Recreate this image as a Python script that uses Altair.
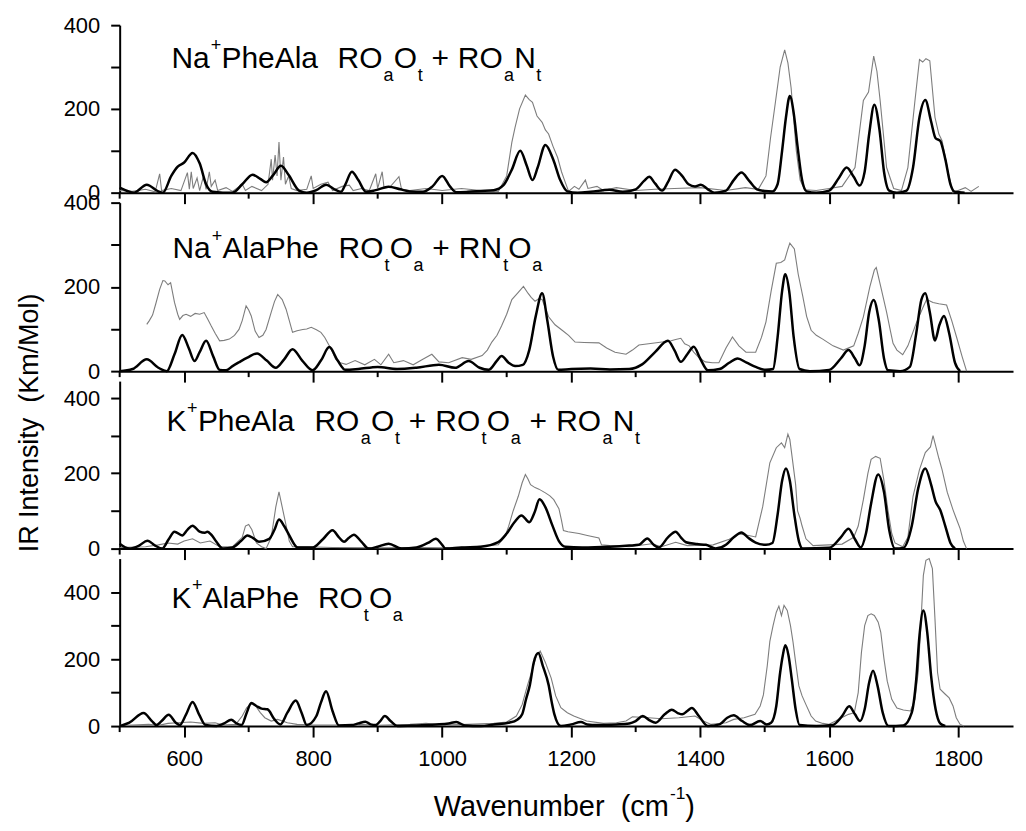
import altair as alt
import pandas as pd

# ---------------- data (wavenumber cm-1, IR intensity km/mol) ----------------
wn_ticks_major = [600, 800, 1000, 1200, 1400, 1600, 1800]
wn_ticks_minor = [500, 700, 900, 1100, 1300, 1500, 1700]
y_ticks = [0, 100, 200, 300, 400]

# Panel 1: Na+PheAla
p1_exp = [(500, 5), (520, 3), (540, 8), (555, 2), (562, 45), (565, 5), (580, 10), (595, 5), (605, 48), (608, 8),
          (611, 50), (614, 10), (620, 35), (624, 5), (630, 40), (634, 8), (639, 50), (642, 15), (648, 30), (652, 5),
          (665, 12), (675, 3), (690, 20), (695, 5), (705, 15), (720, 5), (730, 20), (735, 80), (737, 30), (741, 90),
          (744, 40), (747, 121), (750, 30), (754, 85), (757, 20), (762, 40), (766, 10), (775, 5), (790, 8), (797, 40),
          (800, 10), (812, 20), (823, 25), (830, 5), (845, 15), (856, 18), (862, 5), (875, 10), (887, 5), (897, 45),
          (900, 10), (907, 50), (910, 10), (920, 15), (933, 38), (937, 8), (950, 5), (975, 10), (1000, 5), (1030, 10),
          (1060, 5), (1087, 3), (1100, 40), (1108, 120), (1113, 156), (1120, 200), (1129, 233), (1135, 222),
          (1140, 216), (1147, 183), (1155, 168), (1160, 150), (1165, 140), (1172, 110), (1179, 84), (1185, 50),
          (1191, 24), (1196, 3), (1205, 15), (1212, 8), (1222, 30), (1226, 10), (1240, 15), (1250, 5), (1270, 12),
          (1300, 5), (1330, 8), (1360, 10), (1400, 12), (1440, 5), (1470, 12), (1490, 8), (1502, 40), (1509, 130),
          (1517, 220), (1524, 300), (1531, 341), (1536, 310), (1541, 250), (1549, 100), (1555, 30), (1562, 7),
          (1580, 5), (1600, 10), (1620, 15), (1640, 60), (1653, 220), (1661, 240), (1669, 326), (1674, 290),
          (1679, 220), (1689, 60), (1700, 10), (1712, 5), (1722, 60), (1733, 220), (1740, 318), (1745, 312),
          (1750, 320), (1756, 315), (1764, 180), (1770, 140), (1775, 124), (1785, 45), (1792, 0), (1800, 5),
          (1811, 12), (1820, 3), (1832, 15)]
p1_calc = [(500, 12), (512, 4), (522, 0), (542, 19), (560, 3), (567, 0), (580, 40), (590, 62), (600, 72), (613, 95),
           (624, 70), (634, 20), (644, 2), (660, 0), (675, 0), (690, 20), (706, 43), (718, 33), (727, 25), (738, 42),
           (750, 64), (762, 42), (778, 5), (790, 0), (805, 6), (820, 19), (833, 8), (843, 2), (850, 20), (860, 50),
           (870, 30), (882, 2), (897, 6), (917, 14), (935, 8), (950, 3), (970, 2), (985, 15), (1000, 40), (1012, 15),
           (1022, 1), (1040, 2), (1060, 4), (1080, 6), (1095, 18), (1108, 55), (1121, 100), (1131, 65), (1140, 30),
           (1148, 60), (1160, 114), (1172, 80), (1183, 30), (1194, 3), (1210, 0), (1230, 2), (1259, 7), (1280, 2),
           (1300, 8), (1313, 28), (1321, 38), (1330, 22), (1341, 5), (1350, 25), (1361, 55), (1372, 40), (1382, 20),
           (1392, 15), (1401, 19), (1412, 8), (1422, 0), (1440, 5), (1452, 30), (1464, 48), (1476, 28), (1488, 8),
           (1500, 4), (1512, 3), (1520, 20), (1527, 100), (1533, 180), (1539, 231), (1545, 190), (1551, 110),
           (1558, 30), (1565, 3), (1580, 0), (1600, 5), (1615, 35), (1627, 60), (1638, 38), (1647, 17), (1655, 50),
           (1662, 140), (1670, 210), (1678, 150), (1685, 50), (1693, 5), (1705, 0), (1720, 5), (1730, 60),
           (1740, 180), (1749, 221), (1758, 170), (1765, 130), (1772, 124), (1780, 80), (1788, 20), (1795, 2),
           (1810, 0)]

# Panel 2: Na+AlaPhe
p2_exp = [(542, 111), (546, 120), (551, 133), (556, 160), (562, 194), (567, 215), (570, 214), (575, 205), (579, 210),
          (585, 163), (590, 135), (593, 123), (598, 132), (603, 135), (610, 130), (617, 137), (624, 135), (631, 139),
          (636, 125), (642, 107), (648, 90), (655, 72), (662, 73), (670, 76), (678, 85), (685, 99), (690, 120),
          (696, 155), (700, 145), (704, 131), (710, 95), (716, 80), (722, 85), (727, 99), (735, 140), (740, 165),
          (745, 182), (752, 170), (758, 147), (763, 120), (768, 92), (775, 96), (784, 99), (790, 100), (797, 104),
          (805, 98), (812, 92), (818, 80), (825, 60), (830, 45), (835, 28), (842, 20), (851, 16), (865, 25), (880, 15),
          (895, 28), (905, 15), (917, 40), (925, 20), (940, 25), (955, 15), (970, 28), (984, 40), (995, 22),
          (1010, 20), (1031, 32), (1045, 28), (1062, 37), (1070, 50), (1077, 69), (1085, 85), (1092, 107),
          (1100, 135), (1108, 170), (1118, 187), (1126, 201), (1133, 185), (1138, 175), (1144, 166), (1150, 172),
          (1155, 170), (1160, 150), (1165, 129), (1175, 110), (1186, 97), (1196, 85), (1206, 69), (1220, 68),
          (1243, 67), (1255, 55), (1268, 45), (1285, 40), (1295, 50), (1305, 62), (1320, 65), (1341, 69),
          (1355, 72), (1362, 75), (1370, 78), (1376, 65), (1383, 60), (1390, 45), (1398, 32), (1408, 22),
          (1419, 20), (1429, 20), (1440, 55), (1450, 81), (1460, 60), (1471, 45), (1486, 45), (1495, 80),
          (1502, 117), (1510, 190), (1518, 256), (1525, 258), (1531, 264), (1536, 290), (1539, 304), (1546, 290),
          (1552, 230), (1559, 178), (1565, 130), (1572, 97), (1580, 85), (1590, 76), (1606, 60), (1622, 50),
          (1638, 60), (1645, 90), (1653, 129), (1663, 200), (1670, 240), (1673, 246), (1680, 200), (1689, 140),
          (1695, 95), (1699, 66), (1705, 50), (1714, 39), (1722, 60), (1735, 114), (1745, 150), (1751, 170),
          (1761, 163), (1770, 160), (1782, 157), (1790, 120), (1798, 78), (1806, 35), (1813, 0)]
p2_calc = [(500, 0), (520, 5), (542, 28), (560, 8), (573, 0), (585, 40), (597, 86), (607, 55), (616, 24), (624, 45),
           (634, 72), (645, 35), (655, 3), (665, 2), (675, 12), (685, 21), (698, 32), (713, 42), (728, 25), (742, 8),
           (755, 28), (768, 52), (783, 25), (799, 2), (812, 25), (825, 57), (838, 25), (850, 3), (870, 5), (900, 10),
           (930, 5), (960, 8), (995, 15), (1020, 8), (1041, 24), (1058, 8), (1072, 3), (1085, 25), (1092, 36),
           (1103, 20), (1113, 12), (1125, 15), (1135, 50), (1145, 130), (1155, 185), (1163, 120), (1172, 34),
           (1180, 3), (1200, 5), (1230, 6), (1260, 4), (1290, 5), (1310, 16), (1330, 45), (1350, 72), (1360, 50),
           (1370, 22), (1380, 40), (1390, 58), (1400, 30), (1412, 2), (1430, 5), (1445, 20), (1458, 30), (1472, 20),
           (1486, 10), (1502, 3), (1513, 5), (1520, 80), (1527, 190), (1532, 230), (1538, 190), (1545, 80),
           (1554, 5), (1570, 0), (1600, 3), (1618, 30), (1630, 50), (1640, 30), (1647, 14), (1655, 60), (1662, 140),
           (1669, 169), (1677, 120), (1685, 30), (1691, 2), (1710, 0), (1725, 10), (1735, 90), (1743, 170),
           (1749, 185), (1756, 140), (1764, 73), (1771, 110), (1778, 131), (1786, 90), (1795, 20), (1803, 0)]

# Panel 3: K+PheAla
p3_exp = [(500, 3), (540, 5), (560, 10), (575, 15), (590, 12), (600, 20), (613, 26), (625, 15), (640, 20), (655, 5),
          (675, 5), (690, 30), (695, 60), (700, 64), (705, 50), (712, 15), (720, 5), (727, 0), (735, 30), (742, 110),
          (747, 151), (752, 110), (758, 62), (763, 20), (768, 5), (790, 5), (830, 3), (900, 2), (960, 3), (1000, 2),
          (1050, 5), (1087, 10), (1098, 35), (1103, 59), (1110, 100), (1118, 139), (1124, 175), (1129, 197),
          (1133, 185), (1137, 170), (1144, 162), (1150, 158), (1160, 148), (1167, 140), (1173, 130), (1177, 118),
          (1181, 106), (1185, 75), (1188, 48), (1195, 45), (1212, 40), (1225, 35), (1243, 28), (1247, 10),
          (1260, 8), (1290, 5), (1325, 13), (1340, 5), (1362, 17), (1380, 8), (1420, 10), (1445, 25), (1461, 39),
          (1475, 35), (1486, 31), (1497, 112), (1508, 228), (1518, 268), (1526, 281), (1531, 268), (1536, 304),
          (1539, 290), (1543, 237), (1548, 170), (1551, 100), (1555, 80), (1558, 60), (1564, 26), (1575, 8),
          (1600, 10), (1620, 12), (1638, 30), (1645, 60), (1653, 130), (1660, 200), (1665, 237), (1672, 245),
          (1679, 240), (1685, 180), (1691, 103), (1697, 40), (1702, 15), (1714, 5), (1722, 30), (1730, 139),
          (1740, 210), (1749, 255), (1757, 270), (1761, 300), (1764, 280), (1770, 240), (1775, 210), (1783, 150),
          (1792, 103), (1797, 80), (1803, 53), (1808, 20), (1813, 0)]
p3_calc = [(500, 13), (515, 0), (530, 8), (543, 21), (555, 8), (566, 0), (576, 25), (585, 45), (597, 35), (605, 50),
           (613, 61), (624, 45), (632, 42), (636, 45), (643, 35), (650, 18), (660, 0), (675, 3), (688, 20), (698, 35),
           (707, 28), (716, 18), (732, 26), (740, 50), (747, 77), (755, 60), (763, 35), (776, 3), (799, 3), (815, 25),
           (830, 49), (840, 30), (848, 18), (855, 28), (863, 37), (875, 18), (886, 0), (900, 5), (917, 13), (937, 0),
           (960, 3), (978, 15), (990, 26), (1000, 10), (1005, 0), (1030, 3), (1060, 5), (1087, 17), (1100, 40),
           (1112, 70), (1123, 88), (1135, 70), (1143, 95), (1151, 131), (1160, 110), (1171, 61), (1181, 20),
           (1191, 5), (1217, 3), (1260, 5), (1290, 8), (1305, 10), (1318, 27), (1328, 10), (1336, 3), (1350, 30),
           (1362, 45), (1370, 30), (1378, 17), (1395, 12), (1409, 10), (1424, 0), (1440, 10), (1452, 30), (1464, 43),
           (1475, 28), (1486, 16), (1502, 10), (1512, 15), (1520, 90), (1527, 180), (1533, 213), (1539, 180),
           (1546, 90), (1553, 20), (1559, 0), (1600, 2), (1618, 30), (1630, 53), (1640, 25), (1649, 3), (1657, 40),
           (1665, 120), (1676, 197), (1685, 150), (1693, 50), (1702, 0), (1715, 2), (1728, 60), (1738, 160),
           (1749, 213), (1758, 170), (1765, 125), (1772, 103), (1780, 60), (1788, 15), (1795, 0)]

# Panel 4: K+AlaPhe
p4_exp = [(500, 2), (520, 3), (545, 5), (560, 2), (575, 8), (590, 10), (610, 12), (630, 8), (648, 10), (660, 3),
          (680, 5), (690, 30), (697, 55), (704, 65), (710, 62), (718, 40), (725, 25), (735, 15), (745, 20), (760, 10),
          (775, 5), (800, 3), (840, 3), (870, 5), (900, 2), (950, 5), (975, 8), (1000, 3), (1040, 5), (1080, 8),
          (1100, 12), (1115, 30), (1124, 64), (1132, 120), (1139, 164), (1146, 210), (1152, 224), (1160, 190),
          (1169, 143), (1176, 90), (1184, 55), (1194, 40), (1204, 30), (1224, 15), (1250, 8), (1270, 10),
          (1285, 15), (1295, 28), (1320, 25), (1340, 22), (1367, 25), (1392, 30), (1405, 15), (1417, 5), (1440, 10),
          (1452, 20), (1468, 25), (1485, 35), (1493, 60), (1498, 93), (1504, 180), (1508, 253), (1513, 300),
          (1518, 340), (1522, 358), (1526, 330), (1530, 360), (1535, 345), (1540, 300), (1544, 250), (1548, 190),
          (1553, 120), (1558, 90), (1564, 64), (1572, 30), (1579, 15), (1590, 8), (1599, 5), (1610, 15), (1619, 25),
          (1630, 35), (1639, 40), (1645, 100), (1650, 220), (1655, 300), (1660, 330), (1665, 335), (1670, 330),
          (1676, 310), (1680, 280), (1685, 200), (1690, 134), (1697, 80), (1705, 54), (1715, 48), (1726, 45),
          (1733, 80), (1738, 160), (1742, 300), (1746, 450), (1750, 495), (1755, 500), (1760, 470), (1764, 320),
          (1768, 160), (1772, 110), (1780, 95), (1786, 84), (1792, 60), (1797, 25), (1803, 5), (1809, 0)]
p4_calc = [(500, 0), (515, 10), (537, 39), (550, 15), (557, 3), (565, 15), (576, 34), (587, 10), (593, 3), (603, 35),
           (613, 72), (623, 35), (633, 3), (650, 0), (662, 8), (673, 19), (681, 8), (689, 3), (697, 40), (704, 69),
           (712, 60), (720, 52), (729, 50), (740, 20), (749, 5), (760, 40), (773, 76), (782, 40), (790, 3), (805, 30),
           (812, 70), (820, 104), (830, 45), (840, 2), (860, 3), (870, 8), (881, 13), (889, 5), (897, 3), (904, 15),
           (911, 30), (920, 15), (931, 0), (960, 2), (990, 5), (1010, 8), (1022, 12), (1035, 2), (1060, 0),
           (1080, 5), (1103, 10), (1117, 20), (1124, 35), (1130, 80), (1136, 123), (1142, 190), (1149, 218),
           (1156, 180), (1165, 123), (1170, 70), (1174, 35), (1184, 0), (1200, 5), (1215, 12), (1225, 5), (1240, 3),
           (1270, 5), (1290, 8), (1300, 15), (1311, 30), (1321, 18), (1331, 10), (1345, 35), (1356, 49), (1366, 38),
           (1372, 35), (1380, 45), (1387, 54), (1398, 30), (1412, 0), (1430, 5), (1442, 25), (1452, 32), (1465, 15),
           (1477, 3), (1493, 15), (1503, 5), (1510, 10), (1518, 60), (1524, 160), (1528, 210), (1532, 241),
           (1537, 210), (1542, 140), (1548, 50), (1554, 3), (1580, 0), (1605, 3), (1620, 30), (1631, 59), (1640, 35),
           (1648, 15), (1655, 50), (1662, 130), (1668, 165), (1675, 120), (1683, 40), (1692, 0), (1715, 2),
           (1728, 40), (1735, 140), (1740, 270), (1746, 345), (1752, 280), (1758, 150), (1765, 50), (1772, 8),
           (1780, 0)]

# panel captions: (text, kind) with kind n = normal, sub, sup, sp = spaces
label1 = [("Na", "n"), ("+", "sup"), ("PheAla", "n"), ("  ", "sp"), ("RO", "n"), ("a", "sub"), ("O", "n"),
          ("t", "sub"), (" ", "sp"), ("+", "n"), (" ", "sp"), ("RO", "n"), ("a", "sub"), ("N", "n"), ("t", "sub")]
label2 = [("Na", "n"), ("+", "sup"), ("AlaPhe", "n"), ("  ", "sp"), ("RO", "n"), ("t", "sub"), ("O", "n"),
          ("a", "sub"), (" ", "sp"), ("+", "n"), (" ", "sp"), ("RN", "n"), ("t", "sub"), ("O", "n"), ("a", "sub")]
label3 = [("K", "n"), ("+", "sup"), ("PheAla", "n"), ("  ", "sp"), ("RO", "n"), ("a", "sub"), ("O", "n"),
          ("t", "sub"), (" ", "sp"), ("+", "n"), (" ", "sp"), ("RO", "n"), ("t", "sub"), ("O", "n"), ("a", "sub"),
          (" ", "sp"), ("+", "n"), (" ", "sp"), ("RO", "n"), ("a", "sub"), ("N", "n"), ("t", "sub")]
label4 = [("K", "n"), ("+", "sup"), ("AlaPhe", "n"), ("  ", "sp"), ("RO", "n"), ("t", "sub"), ("O", "n"),
          ("a", "sub")]
y_title = "IR Intensity\u00a0 (Km/Mol)"
x_title = [("Wavenumber\u00a0 (cm", "n"), ("-1", "sup"), (")", "n")]

# ---------------- layout ----------------
FONT = "Liberation Sans"
PLOT_W = 896
X_DOMAIN = [500, 1885]
LEFT = 120
SPACING = 10
# (top in page px, plot height, y max)
GEOM = [(25, 168, 400), (203, 169, 400), (382, 168, 445), (560, 168, 500)]
# caption placement: (start x, end x, baseline y) in page px
CAP = [(172, 543, 68), (173, 544, 259), (167, 642, 432), (172, 404, 610)]

AW = {"N": .722, "a": .556, "+": .584, "P": .667, "h": .556, "e": .556, "A": .667, "l": .222, " ": .278,
      "R": .722, "O": .778, "t": .278, "K": .667, "W": .944, "v": .5, "n": .556, "u": .556, "m": .833,
      "b": .556, "r": .333, "(": .333, ")": .333, "c": .5, "-": .333, "1": .556, "\u00a0": .278}


def text_layer(txt, x, y, size, align="left", baseline="alphabetic", angle=0):
    kw = dict(align=align, baseline=baseline, font=FONT, fontSize=size, color="black")
    if angle:
        kw["angle"] = angle
    return alt.Chart(pd.DataFrame({"t": [txt]})).mark_text(**kw).encode(
        x=alt.value(x), y=alt.value(y), text="t:N")


def seg_layers(segs, x0, x1, base, top, size=30, stretch_to_end=True):
    small = size * 0.6
    widths = []
    for t, k in segs:
        s = small if k in ("sub", "sup") else size
        widths.append(sum(AW.get(c, .556) for c in t) * s)
    total = sum(widths)
    stretch = (x1 - x0) / total if stretch_to_end else 1.0
    layers = []
    cur = x0
    for (t, k), w in zip(segs, widths):
        if k != "sp":
            dy = {"n": 0, "sub": 13, "sup": -17}[k]
            s = small if k in ("sub", "sup") else size
            layers.append(text_layer(t, cur - LEFT, base + dy - top, s))
        cur += w * stretch
    return layers, total


def make_panel(exp_pts, calc_pts, geom, cap, caption, last, extra=()):
    top, h, ymax = geom
    xs = alt.Scale(domain=X_DOMAIN, nice=False, zero=False)
    ys = alt.Scale(domain=[0, ymax], nice=False, zero=True)
    xaxis = alt.Axis(values=wn_ticks_major, format="d", tickSize=11, tickWidth=2, tickColor="black",
                     domainWidth=2, domainColor="black", grid=False, labels=last,
                     labelFont=FONT, labelFontSize=22, labelColor="black", labelPadding=12,
                     labelOverlap=False, title="")
    yaxis = alt.Axis(values=y_ticks, labelExpr="datum.value % 200 === 0 ? datum.label : ''",
                     tickSize=9, tickWidth=2, tickColor="black", domainWidth=2, domainColor="black",
                     grid=False, labelFont=FONT, labelFontSize=22, labelColor="black", labelPadding=11,
                     labelOverlap=False, title="")
    exp = pd.DataFrame(exp_pts, columns=["wn", "inten"])
    calc = pd.DataFrame(calc_pts, columns=["wn", "inten"])
    x_enc = alt.X("wn:Q", scale=xs, axis=xaxis)
    y_enc = alt.Y("inten:Q", scale=ys, axis=yaxis)
    gray = alt.Chart(exp).mark_line(color="#7d7d7d", strokeWidth=1.1).encode(x=x_enc, y=y_enc)
    black = alt.Chart(calc).mark_line(color="black", strokeWidth=2.5, interpolate="monotone").encode(
        x=x_enc, y=y_enc)
    minor = alt.Chart(pd.DataFrame({"wn": wn_ticks_minor})).mark_rule(color="black", strokeWidth=2).encode(
        x=x_enc, y=alt.value(h), y2=alt.value(h + 6))
    caps, _ = seg_layers(caption, cap[0], cap[1], cap[2], top)
    return alt.layer(gray, black, minor, *caps, *extra).properties(width=PLOT_W, height=h)


# y axis title (placed in panel 2), centred at page (30, 424)
ytitle_layer = text_layer(y_title, 30 - LEFT, 424 - GEOM[1][0], 27, align="center", baseline="middle", angle=270)

# x axis title (panel 4), centred at x=566, baseline 818
_, xt_total = seg_layers(x_title, 0, 1, 0, 0, size=29, stretch_to_end=False)
xt_start = 566 - xt_total / 2
xtitle_layers, _ = seg_layers(x_title, xt_start, xt_start + xt_total, 818, GEOM[3][0], size=29,
                              stretch_to_end=False)

panels = [
    make_panel(p1_exp, p1_calc, GEOM[0], CAP[0], label1, False),
    make_panel(p2_exp, p2_calc, GEOM[1], CAP[1], label2, False, extra=(ytitle_layer,)),
    make_panel(p3_exp, p3_calc, GEOM[2], CAP[2], label3, False),
    make_panel(p4_exp, p4_calc, GEOM[3], CAP[3], label4, True, extra=tuple(xtitle_layers)),
]

chart = alt.vconcat(*panels, spacing=SPACING, bounds="flush",
                    padding={"left": 8, "top": 5, "right": 5, "bottom": 0}).configure_view(stroke=None)

chart.save("out.html", embed_options={"renderer": "svg", "actions": False})
